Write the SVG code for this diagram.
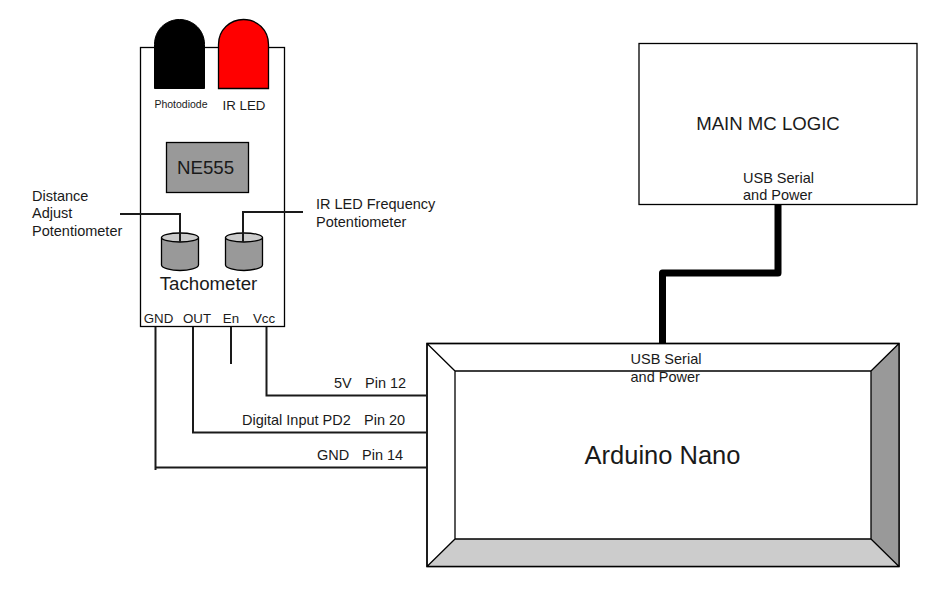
<svg xmlns="http://www.w3.org/2000/svg" width="944" height="589" viewBox="0 0 944 589">
<style>
text{font-family:"Liberation Sans",Arial,sans-serif;fill:#1a1a1a}
.o{fill:none;stroke:#000;stroke-width:1.3}
.w{fill:none;stroke:#1a1a1a;stroke-width:2}
.s13{font-size:13.3px}.s14{font-size:14.5px}
.cyl{fill:#999;stroke:#000;stroke-width:1.3}
.top{fill:#ccc;stroke:#000;stroke-width:1.3}
</style>
<rect width="944" height="589" fill="#fff"/>
<g id="tachometer">
<rect class="o" x="140.500" y="47.500" width="144" height="279" fill="#fff"/>
<text x="208.500" y="290" font-size="18.700" text-anchor="middle">Tachometer</text>
<text x="158.500" y="323" class="s13" text-anchor="middle">GND</text>
<text x="197" y="323" class="s13" text-anchor="middle">OUT</text>
<text x="231" y="323" class="s13" text-anchor="middle">En</text>
<text x="264" y="323" class="s13" text-anchor="middle">Vcc</text>
</g>
<g id="photodiode">
<path d="M154.500 88.500V44.500C154.500 30 166 19.500 179.500 19.500C193 19.500 204.500 30 204.500 44.500V88.500Z" fill="#000" stroke="#000"/>
<text x="181" y="108" font-size="10.500" text-anchor="middle">Photodiode</text>
</g>
<g id="ir-led">
<path d="M218.500 88.500V44.500C218.500 30 230 19.500 243.500 19.500C257 19.500 268.500 30 268.500 44.500V88.500Z" fill="#f00" stroke="#000" stroke-width="1.300"/>
<text x="244" y="110" class="s13" text-anchor="middle">IR LED</text>
</g>
<g id="ne555">
<rect x="166.500" y="142.500" width="82" height="50" fill="#999" stroke="#000" stroke-width="1.300"/>
<text x="205.500" y="174" font-size="18.700" text-anchor="middle">NE555</text>
</g>
<g id="pot-distance">
<path class="cyl" d="M161.500 237.500V265C161.500 268 171 270.500 180 270.500C189 270.500 198.500 268 198.500 265V237.500"/>
<ellipse class="top" cx="180" cy="237.500" rx="18.500" ry="4.500"/>
<text x="32" y="201" class="s14">Distance</text>
<text x="32" y="218" class="s14">Adjust</text>
<text x="32" y="236" class="s14">Potentiometer</text>
</g>
<g id="pot-frequency">
<path class="cyl" d="M225.500 237.500V265C225.500 268 235 270.500 244 270.500C253 270.500 262.500 268 262.500 265V237.500"/>
<ellipse class="top" cx="244" cy="237.500" rx="18.500" ry="4.500"/>
<text x="316" y="209" class="s14">IR LED Frequency</text>
<text x="316" y="227" class="s14">Potentiometer</text>
</g>
<g id="main-mc-logic">
<rect class="o" x="639" y="43.500" width="278" height="161" fill="#fff"/>
<text x="768" y="130" font-size="18.600" text-anchor="middle">MAIN MC LOGIC</text>
<text x="743" y="183" class="s14">USB Serial</text>
<text x="743" y="200" class="s14">and Power</text>
</g>
<g id="arduino-nano">
<rect x="427" y="343.500" width="472" height="223" fill="#fff" stroke="#000" stroke-width="1.300"/>
<path d="M871 371L899 343.500V566.500L871 539Z" fill="#999"/>
<path d="M455 539H871L899 566.500H427Z" fill="#ccc"/>
<path class="o" d="M427 343.500H899V566.500H427ZM455 371H871V539H455ZM427 343.500L455 371M899 343.500L871 371M427 566.500L455 539M899 566.500L871 539"/>
<text x="662.500" y="464" font-size="25.500" text-anchor="middle">Arduino Nano</text>
<text x="630.500" y="364" class="s14">USB Serial</text>
<text x="630.500" y="382" class="s14">and Power</text>
</g>
<g id="connectors">
<path class="w" d="M120 214H180V242"/>
<path class="w" d="M243 242V212H303"/>
<path class="w" d="M155.500 327V470M155.500 467.500H427"/>
<path class="w" d="M193 327V432.500H427"/>
<path class="w" d="M231 327V364"/>
<path class="w" d="M266.500 327V395.500H427"/>
<path d="M778 205V273H662.500V343" fill="none" stroke="#000" stroke-width="7" stroke-linejoin="round"/>
</g>
<g id="wire-labels">
<text x="334" y="388" class="s14">5V</text><text x="365" y="388" class="s14">Pin 12</text>
<text x="242" y="425" class="s14">Digital Input PD2</text><text x="364" y="425" class="s14">Pin 20</text>
<text x="317" y="460" class="s14">GND</text><text x="362" y="460" class="s14">Pin 14</text>
</g>
</svg>
